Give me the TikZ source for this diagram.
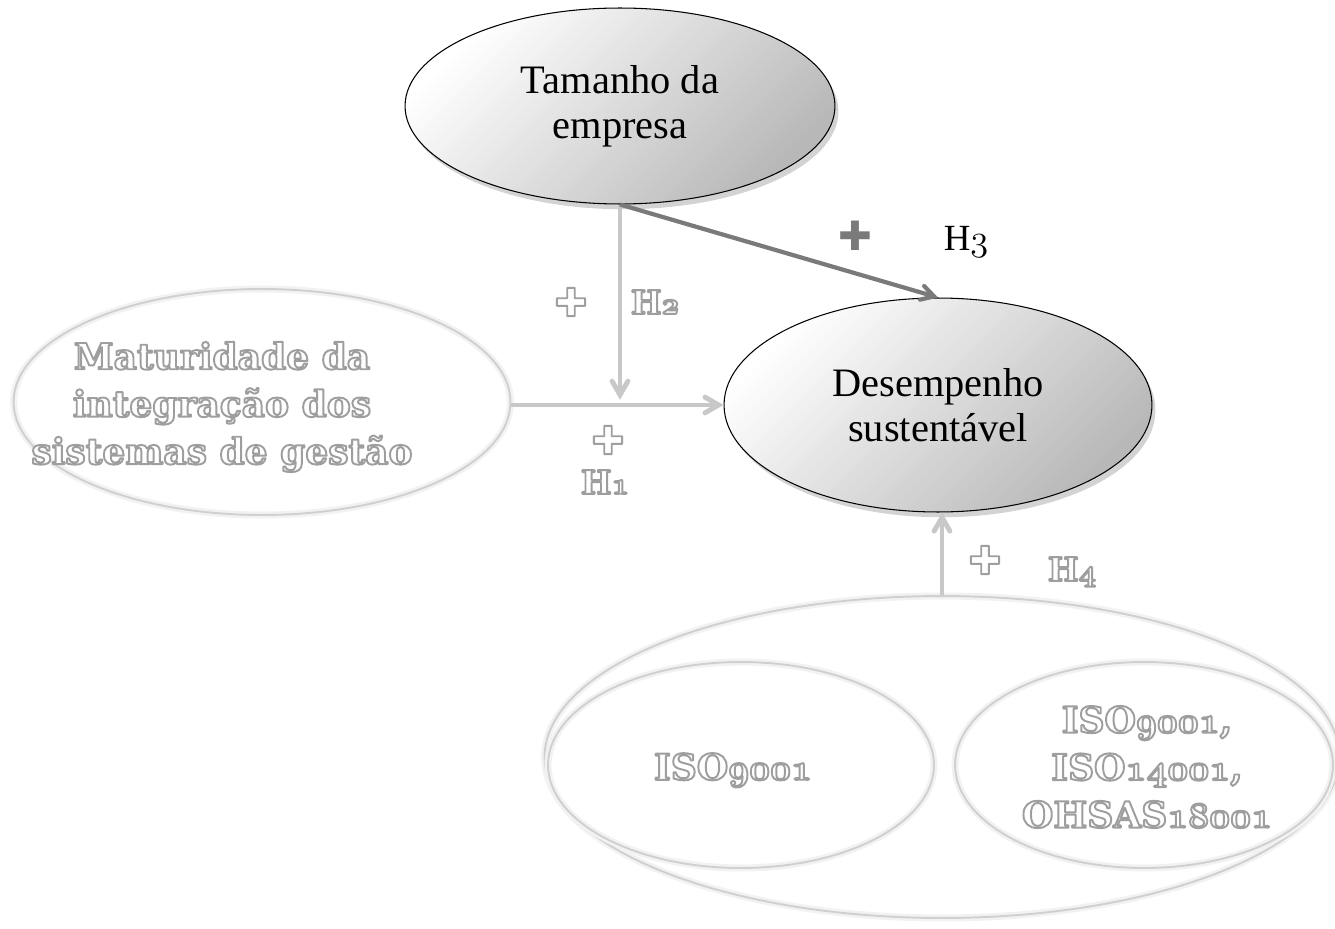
\documentclass[tikz,border=0pt]{standalone}
\usepackage{fontspec}
\setmainfont{Liberation Serif}
\newfontfamily\boldserif{DejaVu Serif}
\newfontfamily\symfont{DejaVu Sans}
\usetikzlibrary{arrows,shapes.geometric,shadows,calc}
\definecolor{color1}{RGB}{200,200,200}
\definecolor{color2}{RGB}{122,122,122}
\definecolor{color3}{RGB}{208,208,208}
% old style figures taken from the math italic font
\newcommand\osnum[2][m]{{\usefont{OML}{cmm}{#1}{it}#2}}
% white letters with a grey rim (fill and stroke render mode)
\newcommand\rim[1]{\special{pdf:literal direct 0.62 G 1.1 w 1 j 2 Tr}#1\special{pdf:literal direct 0 Tr}}
\tikzset{
  darkblob/.style = {ellipse, draw=black, semithick, inner sep=0pt,
    top color=white, bottom color=black!28, shading angle=45,
    drop shadow={shadow xshift=2pt, shadow yshift=-3pt, opacity=.35},
    font=\fontsize{23}{25.5}\selectfont, align=center},
  lightblob/.style = {ellipse, draw=color3, line width=1.1pt, inner sep=0pt,
    preaction={draw=black!5, line width=4pt}},
  ghosttext/.style = {align=center, text=white, inner sep=0pt,
    font=\boldserif\bfseries\fontsize{20.5}{27}\selectfont},
  ghostlabel/.style = {ghosttext, font=\boldserif\bfseries\fontsize{18.5}{20}\selectfont},
  ghostplus/.style = {ghosttext, font=\symfont\fontsize{22}{22}\selectfont},
  lightarrow/.style = {->, draw=color1, line width=2.8pt},
  darkarrow/.style = {->, draw=color2, line width=2.4pt},
}

\begin{document}
\begin{tikzpicture}[x=0.02cm,y=-0.02cm,thick,>=angle 60]
\useasboundingbox (0,0) rectangle (1335,929);
% ellipses
\node [darkblob, minimum width=8.6cm, minimum height=3.92cm] (tam) at (620,106) {Tamanho da\\empresa};
\node [darkblob, minimum width=8.56cm, minimum height=4.28cm] (des) at (938,405) {Desempenho\\sustentável};
\node [lightblob, minimum width=9.94cm, minimum height=4.52cm] (mat) at (262,402) {};
\node [lightblob, minimum width=15.9cm, minimum height=6.44cm] (iso) at (942,757) {};
\node [lightblob, minimum width=7.72cm, minimum height=4.12cm] (isoa) at (741,765) {};
\node [lightblob, minimum width=7.56cm, minimum height=4.12cm] (isob) at (1144,765) {};
% connectors
\coordinate (meet) at (tam.south |- des.west);
\draw [lightarrow] (tam.south) -- ([yshift=3pt]meet);
\draw [lightarrow] (mat.east |- des.west) -- (des.west);
\draw [darkarrow] (tam.south) -- (des.north);
\draw [lightarrow] (iso.north) -- (iso.north |- des.south);
% labels
\node [text=color2, font=\symfont\fontsize{23}{23}\selectfont] (plus3) at (855,236) {✚};
\node [font=\fontsize{21}{24}\selectfont] (h3) at (966,242) {H\osnum{3}};
\node [ghosttext] (matlabel) at (222,407) {\rim{Maturidade da}\\\rim{integração dos}\\\rim{sistemas de gestão}};
\node [ghosttext] (isoalabel) at (733,770) {\rim{ISO\osnum[b]{9001}}};
\node [ghosttext] (isoblabel) at (1147,767) {\rim{ISO\osnum[b]{9001},}\\\rim{ISO\osnum[b]{14001},}\\\rim{OHSAS\osnum[b]{18001}}};
\node [ghostlabel] (h2) at (655,302) {\rim{H\osnum[b]{2}}};
\node [ghostlabel] (h1) at (605,482) {\rim{H\osnum[b]{1}}};
\node [ghostlabel] (h4) at (1072,572) {\rim{H\osnum[b]{4}}};
\node [ghostplus] (plus2) at (571,302) {\rim{✚}};
\node [ghostplus] (plus1) at (608,440) {\rim{✚}};
\node [ghostplus] (plus4) at (985,560) {\rim{✚}};
\end{tikzpicture}
\end{document}
